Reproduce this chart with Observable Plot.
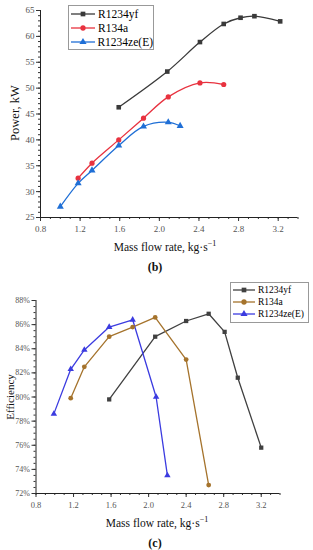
<!DOCTYPE html>
<html><head><meta charset="utf-8">
<script src="https://cdn.jsdelivr.net/npm/d3@7"></script>
<script src="https://cdn.jsdelivr.net/npm/@observablehq/plot@0.6"></script>
<style>
body{margin:0;background:#fff;}
#wrap{position:relative;width:313px;height:550px;font-family:"Liberation Serif",serif;overflow:hidden;background:#fff;}
.abs{position:absolute;white-space:nowrap;color:#111;}
.leg{position:absolute;border:1px solid #999;background:#fff;font-family:"Liberation Serif",serif;}
.leg div{display:flex;align-items:center;}
</style></head><body><div id="wrap"></div>
<script>
// ---- data ----
const series = ["R1234yf", "R134a", "R1234ze(E)"];
// Power chart (b)
const flowYf = [1.59, 2.08, 2.41, 2.65, 2.82, 2.96, 3.22];
const powerYf = [46.3, 53.2, 58.9, 62.4, 63.6, 63.9, 62.9];
const flow134a = [1.18, 1.32, 1.59, 1.84, 2.09, 2.41, 2.65];
const power134a = [32.6, 35.5, 40.0, 44.2, 48.3, 51.0, 50.7];
const flowZe = [1.0, 1.18, 1.32, 1.59, 1.84, 2.09, 2.21];
const powerZe = [27.1, 31.6, 34.1, 38.9, 42.6, 43.4, 42.7];
// Efficiency chart (c), %
const effFlowYf = [1.58, 2.07, 2.40, 2.64, 2.81, 2.95, 3.20];
const effYf = [79.8, 85.0, 86.3, 86.9, 85.4, 81.6, 75.8];
const effFlow134a = [1.17, 1.315, 1.58, 1.83, 2.07, 2.40, 2.64];
const eff134a = [79.9, 82.5, 85.0, 85.8, 86.6, 83.1, 72.7];
const effFlowZe = [0.99, 1.17, 1.315, 1.58, 1.83, 2.08, 2.20];
const effZe = [78.6, 82.3, 83.9, 85.8, 86.4, 80.0, 73.5];
// ticks
const xTicks = [0.8, 1.2, 1.6, 2.0, 2.4, 2.8, 3.2];
const powerTicks = [25, 30, 35, 40, 45, 50, 55, 60, 65];
const effTicks = [72, 74, 76, 78, 80, 82, 84, 86, 88];
// colours & symbols
const powerColors = ["#3a3a3a", "#e8323f", "#1f6fd6"];
const effColors = ["#404040", "#a5732c", "#3b3be0"];
const symbols = ["square", "circle", "triangle"];

function rows(flows, vals) {
  return series.flatMap((s, i) => flows[i].map((f, j) => ({series: s, flow: f, value: vals[i][j]})));
}
const powerRows = rows([flowYf, flow134a, flowZe], [powerYf, power134a, powerZe]);
const effRows = rows([effFlowYf, effFlow134a, effFlowZe], [effYf, eff134a, effZe]);

const minorX = d3.range(8, 35).map(d => d / 10);
const minorPower = d3.range(25, 66);
const minorEff = d3.range(144, 177).map(d => d / 2);

const wrap = document.getElementById("wrap");

function makePlot(cfg) {
  const p = Plot.plot({
    width: 313, height: cfg.height,
    marginLeft: cfg.ml, marginRight: cfg.mr, marginTop: cfg.mt, marginBottom: cfg.mb,
    style: {fontFamily: "'Liberation Serif', serif", fontSize: "9px", color: "#555", background: "transparent", overflow: "visible"},
    x: {domain: [0.8, 3.4]},
    y: {domain: cfg.ydom},
    color: {domain: series, range: cfg.colors},
    symbol: {domain: series, range: symbols},
    marks: [
      Plot.axisX({ticks: minorX, tickSize: 2, text: null, stroke: "#333", label: null}),
      Plot.axisX({ticks: xTicks, tickSize: 4, tickFormat: d => d.toFixed(1), tickPadding: 4, stroke: "#333", fill: "#555", label: null, fontSize: cfg.xfs}),
      Plot.axisY({ticks: cfg.minorY, tickSize: 2, text: null, stroke: "#333", label: null}),
      Plot.axisY({ticks: cfg.yticks, tickSize: 4, tickFormat: cfg.yfmt, tickPadding: 2, stroke: "#333", fill: "#555", label: null, fontSize: cfg.yfs}),
      Plot.ruleX([0.8], {stroke: "#222"}),
      Plot.ruleY([cfg.ydom[0]], {stroke: "#222"}),
      Plot.line(cfg.data, {x: "flow", y: "value", z: "series", stroke: "series", curve: cfg.curve, strokeWidth: 1.3}),
      Plot.dot(cfg.data, {x: "flow", y: "value", fill: "series", symbol: "series", r: cfg.r, stroke: "none"})
    ]
  });
  p.style.position = "absolute";
  p.style.left = "0px";
  p.style.top = cfg.top + "px";
  wrap.appendChild(p);
}

makePlot({top: 0, height: 232, ml: 40, mr: 15.5, mt: 10, mb: 15, ydom: [25, 65], yticks: powerTicks,
  minorY: minorPower, yfmt: d => d, colors: powerColors, data: powerRows, curve: "catmull-rom", r: 2.6, xfs: 9, yfs: 9});
makePlot({top: 280, height: 230, ml: 35.5, mr: 33.5, mt: 20, mb: 17, ydom: [72, 88], yticks: effTicks,
  minorY: minorEff, yfmt: d => d + "%", colors: effColors, data: effRows, curve: "linear", r: 2.4, xfs: 8.5, yfs: 8});

function text(html, x, y, opts = {}) {
  const d = document.createElement("div");
  d.className = "abs";
  d.innerHTML = html;
  d.style.left = x + "px";
  d.style.top = y + "px";
  d.style.fontSize = (opts.fs || 12) + "px";
  if (opts.bold) d.style.fontWeight = "bold";
  d.style.transform = "translate(-50%,-50%)" + (opts.rot ? " rotate(-90deg)" : "");
  wrap.appendChild(d);
}
const xTitle = 'Mass flow rate, kg·s<sup style="font-size:0.7em;vertical-align:0.7em">−1</sup>';
text(xTitle, 165, 246, {fs: 11.5});
text("(b)", 155, 267, {fs: 12, bold: true});
text("Power, kW", 15, 113, {fs: 12.5, rot: true});
text(xTitle, 157, 522, {fs: 11.5});
text("(c)", 155, 543, {fs: 12, bold: true});
text("Efficiency", 10, 397, {fs: 11, rot: true});

function legend(left, top, w, h, rowH, fs, colors, lineW) {
  const box = document.createElement("div");
  box.className = "leg";
  box.style.left = left + "px"; box.style.top = top + "px";
  box.style.width = w + "px"; box.style.height = h + "px";
  box.style.paddingTop = "1px";
  series.forEach((s, i) => {
    const row = document.createElement("div");
    row.style.height = rowH + "px";
    row.style.fontSize = fs + "px";
    const svg = d3.create("svg").attr("width", lineW + 4).attr("height", rowH);
    svg.append("line").attr("x1", 2).attr("x2", lineW + 2).attr("y1", rowH / 2).attr("y2", rowH / 2)
      .attr("stroke", colors[i]).attr("stroke-width", 1.3);
    const sym = [d3.symbolSquare, d3.symbolCircle, d3.symbolTriangle][i];
    svg.append("path").attr("d", d3.symbol(sym, 22)).attr("transform", `translate(${lineW / 2 + 2},${rowH / 2})`)
      .attr("fill", colors[i]);
    row.appendChild(svg.node());
    const t = document.createElement("span");
    t.textContent = s;
    t.style.marginLeft = "1px";
    row.appendChild(t);
    box.appendChild(row);
  });
  wrap.appendChild(box);
}
legend(68, 5, 84, 42, 14, 11.5, powerColors, 24);
legend(230, 282, 77, 38, 12, 9.5, effColors, 22);
</script></body></html>
